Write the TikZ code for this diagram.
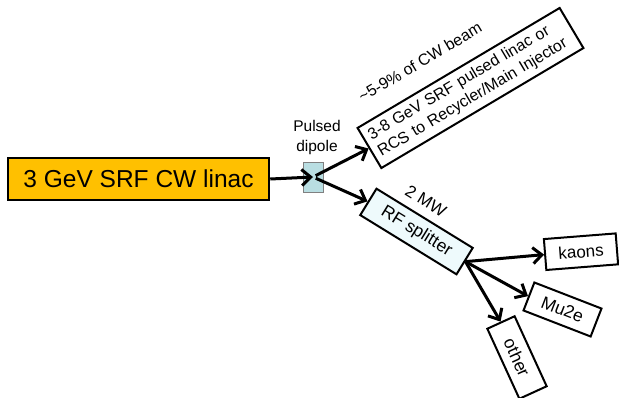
\documentclass[tikz,border=0pt]{standalone}
\usepackage{fontspec}
\setmainfont{Liberation Sans}
\usepackage{tikz}
\usetikzlibrary{positioning,calc,arrows.meta}

\definecolor{linacfill}{RGB}{255,192,0}
\definecolor{dipolefill}{RGB}{185,222,226}
\definecolor{splitfill}{RGB}{238,250,252}

\tikzset{
  beambox/.style={draw=black,line width=2pt,fill=white,inner sep=4pt},
  beamarrow/.style={line width=3pt,-{Straight Barb[length=9pt,width=16pt]}},
  note/.style={inner sep=0pt,font=\fontsize{16}{19}\selectfont}
}

\begin{document}
\begin{tikzpicture}[x=1pt,y=-1pt]
		\useasboundingbox (0,0) rectangle (619,397);
		\node[beambox,fill=linacfill,line width=2.5pt,minimum width=261pt,minimum height=42pt,font=\fontsize{24.5}{28}\selectfont] (linac) at (138.5,179) {3 GeV SRF CW linac};
		\node[draw=gray,fill=dipolefill,line width=0.8pt,minimum width=20pt,minimum height=30pt,inner sep=0pt] (dipole) at (313,177) {};
		\node[note,align=center,font=\fontsize{15.5}{20}\selectfont] (dipolelabel) at (317,137) {Pulsed\\dipole};
		\node[beambox,rotate=30.7,minimum width=235pt,minimum height=46.6pt,text width=223pt,align=left,font=\fontsize{16}{19.5}\selectfont] (pulsed) at (470.5,88) {3-8 GeV SRF pulsed linac or\\RCS to Recycler/Main Injector};
		\node[note,rotate=30.7] (fraction) at (420,62) {\char`\~5-9\% of CW beam};
		\node[beambox,fill=splitfill,rotate=-31.6,minimum width=113pt,minimum height=31pt,font=\fontsize{17.5}{20}\selectfont] (splitter) at (416.5,231.5) {RF splitter};
		\node[note,rotate=-31.6,font=\fontsize{17}{20}\selectfont] (power) at (426,201) {2 MW};
		\node[beambox,rotate=4.5,minimum width=72pt,minimum height=31pt,font=\fontsize{17}{20}\selectfont] (kaons) at (581,251.7) {kaons};
		\node[beambox,rotate=-21.2,minimum width=72pt,minimum height=30pt,font=\fontsize{17.5}{20}\selectfont] (mutwoe) at (562.5,309.5) {Mu2e};
		\node[beambox,rotate=-65.4,minimum width=77pt,minimum height=30pt,font=\fontsize{17.5}{20}\selectfont] (other) at (517,357.5) {other};
		% beam lines
		\draw[beamarrow] (linac.east) -- (dipole.center);
		\draw[beamarrow,shorten <=3pt] (dipole.center) -- (pulsed.west);
		\draw[beamarrow,shorten <=3pt] (dipole.center) -- (splitter.west);
		\draw[beamarrow] (splitter.east) -- (kaons.west);
		\draw[beamarrow] (splitter.east) -- (mutwoe.west);
		\draw[beamarrow] (splitter.east) -- (other.west);
	\end{tikzpicture}
\end{document}
